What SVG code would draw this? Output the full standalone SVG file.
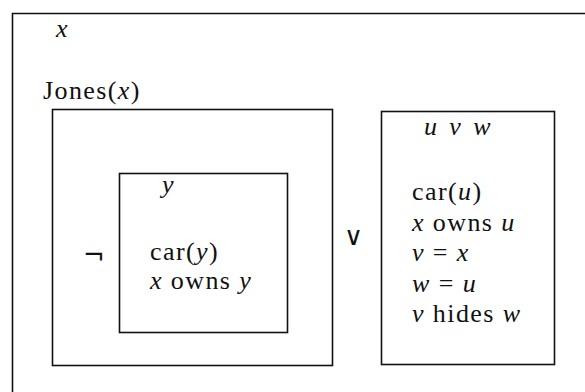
<svg xmlns="http://www.w3.org/2000/svg" width="585" height="392" viewBox="0 0 585 392">
<style>
.box{fill:none;stroke:#111;stroke-width:1.6}
text{font-family:"Liberation Serif","Times New Roman",serif;font-size:26px;letter-spacing:1.4px;fill:#111}
.i{font-style:italic}
.op{font-family:"DejaVu Sans",sans-serif;letter-spacing:0}
</style>
<rect width="585" height="392" fill="#fff"/>
<g id="outer">
<path class="box" d="M585 13.5 H12.5 V392"/>
<text x="56" y="37" class="i">x</text>
</g>
<g id="jones">
<text x="43" y="99">Jones(<tspan class="i">x</tspan>)</text>
<rect class="box" x="52.5" y="109.5" width="280" height="256"/>
<text class="op" x="83" y="264" font-size="24">¬</text>
</g>
<g id="inner">
<rect class="box" x="119.5" y="173.5" width="168" height="159"/>
<text x="162" y="193" class="i">y</text>
<text x="150" y="260">car(<tspan class="i">y</tspan>)</text>
<text x="150" y="289"><tspan class="i">x</tspan> owns <tspan class="i">y</tspan></text>
</g>
<g id="or">
<text class="op" x="344" y="245" font-size="32">∨</text>
</g>
<g id="right">
<rect class="box" x="381.5" y="111.5" width="173" height="253"/>
<text x="424" y="135" class="i" word-spacing="3">u v w</text>
<text x="412" y="200">car(<tspan class="i">u</tspan>)</text>
<text x="412" y="230.5"><tspan class="i">x</tspan> owns <tspan class="i">u</tspan></text>
<text x="412" y="261"><tspan class="i">v</tspan> = <tspan class="i">x</tspan></text>
<text x="412" y="291.5"><tspan class="i">w</tspan> = <tspan class="i">u</tspan></text>
<text x="412" y="322"><tspan class="i">v</tspan> hides <tspan class="i">w</tspan></text>
</g>
<g id="connectors"></g>
</svg>
